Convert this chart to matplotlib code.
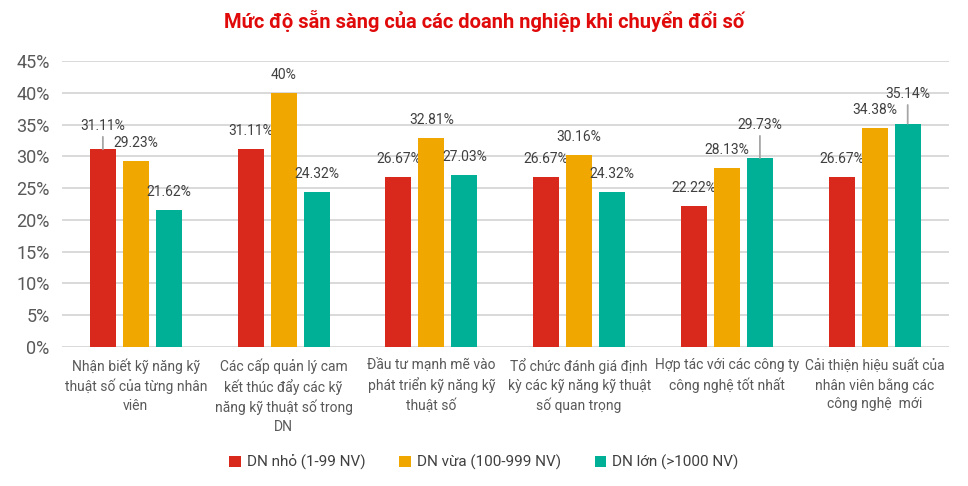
import matplotlib
matplotlib.use("Agg")
import matplotlib.pyplot as plt
import numpy as np
from matplotlib.ticker import FuncFormatter

plt.rcParams["font.family"] = ["Roboto", "DejaVu Sans"]

# data
categories = [
    "Nhận biết kỹ năng kỹ\nthuật số của từng nhân\nviên",
    "Các cấp quản lý cam\nkết thúc đẩy các kỹ\nnăng kỹ thuật số trong\nDN",
    "Đầu tư mạnh mẽ vào\nphát triển kỹ năng kỹ\nthuật số",
    "Tổ chức đánh giá định\nkỳ các kỹ năng kỹ thuật\nsố quan trọng",
    "Hợp tác với các công ty\ncông nghệ tốt nhất",
    "Cải thiện hiệu suất của\nnhân viên bằng các\ncông nghệ  mới",
]
series_names = ["DN nhỏ (1-99 NV)", "DN vừa (100-999 NV)", "DN lớn (>1000 NV)"]
dn_nho = [31.11, 31.11, 26.67, 26.67, 22.22, 26.67]
dn_vua = [29.23, 40.00, 32.81, 30.16, 28.13, 34.38]
dn_lon = [21.62, 24.32, 27.03, 24.32, 29.73, 35.14]
label_text = [
    ["31.11%", "31.11%", "26.67%", "26.67%", "22.22%", "26.67%"],
    ["29.23%", "40%", "32.81%", "30.16%", "28.13%", "34.38%"],
    ["21.62%", "24.32%", "27.03%", "24.32%", "29.73%", "35.14%"],
]

colors = ["#D9291C", "#F0A800", "#00B096"]
# label offsets (points) for labels that Excel moved up with a leader line
leader = {(0, 0): 17, (2, 4): 24, (2, 5): 21.5}

fig = plt.figure(figsize=(9.68, 4.86), dpi=100)
ax = fig.add_axes([0.064, 0.286, 0.916, 0.5885])

x = np.arange(len(categories))
width = 0.176
step = 0.223
all_series = [dn_nho, dn_vua, dn_lon]
for i, (vals, name, c) in enumerate(zip(all_series, series_names, colors)):
    xs = x + (i - 1) * step
    ax.bar(xs, [v / 100 for v in vals], width, color=c, label=name, zorder=3)
    for j, v in enumerate(vals):
        off = leader.get((i, j), 13)
        kw = {}
        if (i, j) in leader:
            kw["arrowprops"] = dict(arrowstyle="-", color="#A6A6A6", lw=1.3,
                                    shrinkA=1, shrinkB=0)
        ax.annotate(label_text[i][j], (xs[j], v / 100), xytext=(0, off),
                    textcoords="offset points", ha="center", va="center",
                    fontsize=10, color="#404040", **kw)

ax.set_xlim(-0.5, len(categories) - 0.5)
ax.set_ylim(0, 0.45)
ax.set_yticks(np.arange(0, 0.46, 0.05))
ax.yaxis.set_major_formatter(FuncFormatter(lambda v, p: f"{v * 100:.0f}%"))
ax.yaxis.grid(True, color="#D9D9D9", lw=1.4, zorder=0)
ax.set_axisbelow(True)
for s in ax.spines.values():
    s.set_visible(False)
ax.tick_params(axis="y", length=0, labelsize=13, labelcolor="#595959", pad=9)
ax.tick_params(axis="x", length=0, pad=8)
ax.set_xticks(x)
ax.set_xticklabels(categories, fontsize=10, color="#595959", linespacing=1.4)

fig.text(0.5, 0.958, "Mức độ sẵn sàng của các doanh nghiệp khi chuyển đổi số",
         ha="center", va="center", fontsize=14.5, fontweight="bold", color="#E00A0A")

fig.legend(loc="center", bbox_to_anchor=(0.5, 0.049), ncol=3, frameon=False,
           fontsize=11, handlelength=0.75, handleheight=0.75, handletextpad=0.4,
           columnspacing=2.2, labelcolor="#404040")

fig.savefig("out.png", dpi=100)
